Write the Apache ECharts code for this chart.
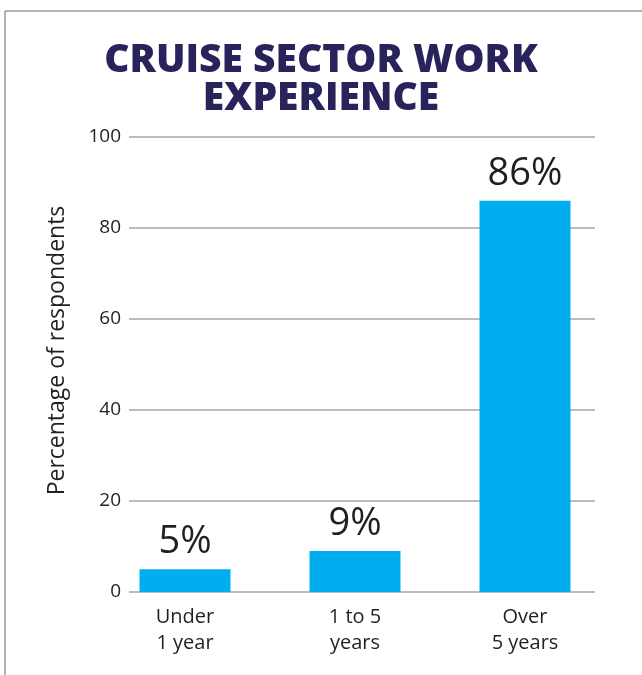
<!DOCTYPE html>
<html>
<head>
<meta charset="utf-8">
<script src="https://cdn.jsdelivr.net/npm/echarts@6/dist/echarts.min.js"></script>
<style>
  html, body { margin: 0; padding: 0; background: #fff; }
  #chart { width: 642px; height: 675px; }
</style>
</head>
<body>
<div id="chart"></div>
<script>
const categories = ['Under\n1 year', '1 to 5\nyears', 'Over\n5 years'];
const values = [5, 9, 86];
const yTicks = { min: 0, max: 100, interval: 20 };

const textColor = '#231f20';
const font = 'Open Sans';

const chart = echarts.init(document.getElementById('chart'));
const option = {
  animation: false,
  title: {
    text: 'CRUISE SECTOR WORK\nEXPERIENCE',
    left: 'center',
    top: 37,
    textStyle: {
      fontFamily: font,
      fontWeight: 800,
      fontSize: 39,
      lineHeight: 38,
      color: '#29235c'
    }
  },
  graphic: [
    { type: 'line', shape: { x1: 5, y1: 11, x2: 642, y2: 11 }, style: { stroke: '#9a9a9a', lineWidth: 1.5 } },
    { type: 'line', shape: { x1: 5, y1: 11, x2: 5, y2: 675 }, style: { stroke: '#9a9a9a', lineWidth: 1.5 } }
  ],
  grid: [
    { left: 129, right: 47, top: 137, bottom: 83 },
    { left: 100, right: 32, top: 137, bottom: 83 }
  ],
  xAxis: [
    { gridIndex: 0, type: 'category', data: categories, show: false },
    {
      gridIndex: 1,
      type: 'category',
      data: categories,
      axisLine: { show: false },
      axisTick: { show: false },
      axisLabel: {
        margin: 12,
        fontFamily: font,
        fontSize: 20,
        lineHeight: 26,
        color: textColor
      }
    }
  ],
  yAxis: [
    {
      gridIndex: 0,
      type: 'value',
      min: yTicks.min,
      max: yTicks.max,
      interval: yTicks.interval,
      name: 'Percentage of respondents',
      nameLocation: 'middle',
      nameGap: 60,
      nameTextStyle: { fontFamily: font, fontSize: 23, color: textColor, padding: [0, 0, 0, 28] },
      axisLine: { show: false },
      axisTick: { show: false },
      axisLabel: { margin: 8, fontFamily: font, fontSize: 19, color: textColor },
      splitLine: { lineStyle: { color: '#a6a6a6', width: 1.5 } }
    },
    {
      gridIndex: 1,
      type: 'value',
      min: yTicks.min,
      max: yTicks.max,
      show: false
    }
  ],
  series: [
    {
      type: 'bar',
      xAxisIndex: 1,
      yAxisIndex: 1,
      data: values,
      barWidth: 91,
      itemStyle: { color: '#00aeef' },
      label: {
        show: true,
        position: 'top',
        distance: 8,
        formatter: '{c}%',
        fontFamily: font,
        fontSize: 38,
        color: textColor
      }
    }
  ]
};
chart.setOption(option);
</script>
</body>
</html>
